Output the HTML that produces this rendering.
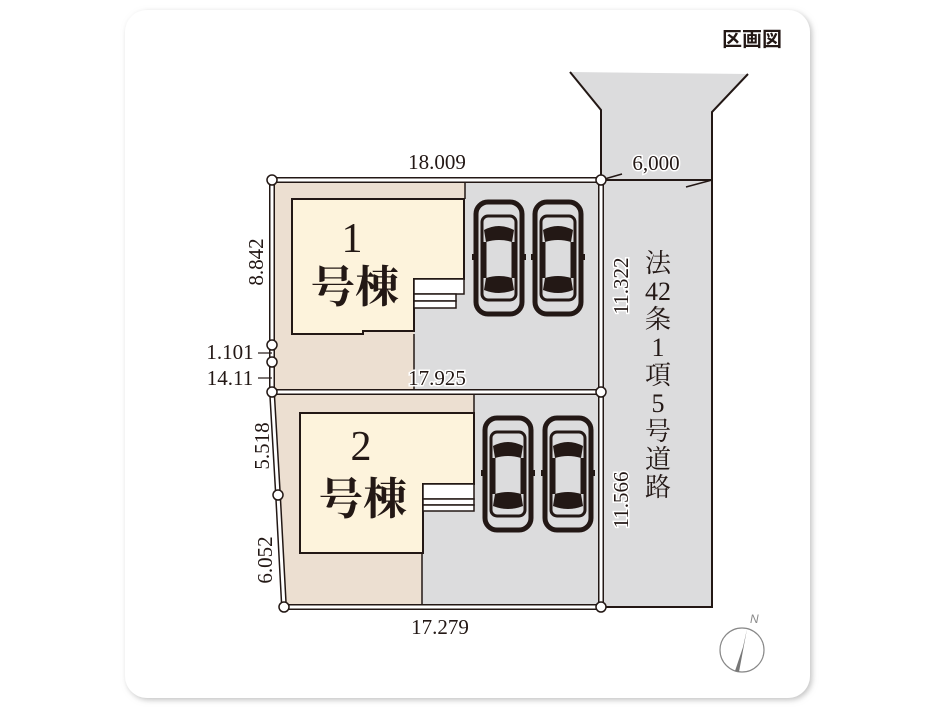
<!DOCTYPE html>
<html><head><meta charset="utf-8"><style>
html,body{margin:0;padding:0;background:#fff;width:939px;height:708px;overflow:hidden}
</style></head><body>
<svg width="939" height="708" viewBox="0 0 939 708" xmlns="http://www.w3.org/2000/svg">
<defs>
<filter id="sh" x="-5%" y="-5%" width="110%" height="110%"><feDropShadow dx="2" dy="2" stdDeviation="3" flood-color="#999" flood-opacity="0.6"/></filter>
<g id="car">
<rect x="0" y="0" width="46" height="112" rx="12" fill="none" stroke="#231815" stroke-width="5"/>
<rect x="6" y="14" width="34" height="84" rx="6" fill="none" stroke="#231815" stroke-width="3"/>
<path d="M8 28 Q23 20 38 28 L36 40 Q23 36 10 40 Z" fill="#231815"/>
<path d="M10 76 Q23 72 36 76 L38 88 Q23 94 8 88 Z" fill="#231815"/>
<line x1="9" y1="40" x2="9" y2="76" stroke="#231815" stroke-width="3"/>
<line x1="37" y1="40" x2="37" y2="76" stroke="#231815" stroke-width="3"/>
<rect x="-4" y="52" width="6" height="6" fill="#231815"/>
<rect x="44" y="52" width="6" height="6" fill="#231815"/>
</g>
</defs>
<rect x="125" y="10" width="685" height="688" rx="22" fill="#fff" filter="url(#sh)"/>
<text x="752" y="46" font-family="Liberation Sans,'Noto Sans CJK JP',sans-serif" font-size="20" font-weight="bold" text-anchor="middle" fill="#231815">区画図</text>

<polygon points="570,72 748,74 712,112 712,607 600,607 600,110" fill="#dcdcdd"/>
<polyline points="570,72 601,110 601,607 712,607 712,112 748,74" fill="none" stroke="#231815" stroke-width="2"/>
<line x1="601" y1="180" x2="712" y2="180" stroke="#231815" stroke-width="2"/>
<line x1="686" y1="187" x2="712" y2="180" stroke="#231815" stroke-width="1.5"/>
<line x1="601" y1="180" x2="622" y2="174" stroke="#231815" stroke-width="1.5"/>

<rect x="272" y="180" width="329" height="212" fill="#dcdcdd"/>
<polygon points="272,180 465,180 465,199 414,199 414,392 272,392" fill="#ecdfd1"/>
<polygon points="292,199 464,199 464,279 414,279 414,331 363,331 363,334 292,334" fill="#fdf3dc" stroke="#231815" stroke-width="2"/>
<rect x="414" y="279" width="50" height="15" fill="#fff" stroke="#231815" stroke-width="1.5"/>
<rect x="414" y="294" width="42" height="7" fill="#fff" stroke="#231815" stroke-width="1.5"/>
<rect x="414" y="301" width="42" height="7" fill="#fff" stroke="#231815" stroke-width="1.5"/>
<line x1="465" y1="182" x2="465" y2="199" stroke="#231815" stroke-width="1.5"/>
<line x1="414" y1="334" x2="414" y2="391" stroke="#231815" stroke-width="1.5"/>
<use href="#car" x="476" y="202"/>
<use href="#car" x="535" y="202"/>

<polygon points="272,392 601,392 601,607 284,607 278,495" fill="#dcdcdd"/>
<polygon points="272,392 474,392 474,413 422,413 422,607 284,607 278,495" fill="#ecdfd1"/>
<polygon points="300,413 474,413 474,484 423,484 423,553 300,553" fill="#fdf3dc" stroke="#231815" stroke-width="2"/>
<rect x="423" y="484" width="51" height="15" fill="#fff" stroke="#231815" stroke-width="1.5"/>
<rect x="423" y="499" width="51" height="6" fill="#fff" stroke="#231815" stroke-width="1.5"/>
<rect x="423" y="505" width="51" height="6" fill="#fff" stroke="#231815" stroke-width="1.5"/>
<line x1="474" y1="394" x2="474" y2="413" stroke="#231815" stroke-width="1.5"/>
<line x1="422" y1="553" x2="422" y2="606" stroke="#231815" stroke-width="1.5"/>
<use href="#car" x="485" y="418"/>
<use href="#car" x="545" y="418"/>

<g fill="none" stroke-linejoin="round">
<polyline points="272,180 601,180 601,607 284,607 278,495 272,392 272,180" stroke="#231815" stroke-width="6"/>
<line x1="272" y1="392" x2="601" y2="392" stroke="#231815" stroke-width="6"/>
<polyline points="272,180 601,180 601,607 284,607 278,495 272,392 272,180" stroke="#fff" stroke-width="3"/>
<line x1="272" y1="392" x2="601" y2="392" stroke="#fff" stroke-width="3"/>
</g>
<line x1="258" y1="353" x2="272" y2="353" stroke="#231815" stroke-width="1.2"/>
<line x1="258" y1="378" x2="272" y2="378" stroke="#231815" stroke-width="1.2"/>
<g fill="#fff" stroke="#231815" stroke-width="1.5">
<circle cx="272" cy="180" r="5"/><circle cx="601" cy="180" r="5"/>
<circle cx="272" cy="345" r="5"/><circle cx="272" cy="362" r="5"/>
<circle cx="272" cy="392" r="5"/><circle cx="601" cy="392" r="5"/>
<circle cx="278" cy="495" r="5"/><circle cx="284" cy="607" r="5"/>
<circle cx="601" cy="607" r="5"/>
</g>

<g font-family="Liberation Serif,'Noto Serif CJK SC',serif" fill="#231815" font-size="21" stroke="#fff" stroke-width="3" paint-order="stroke">
<text x="437" y="169" text-anchor="middle">18.009</text>
<text x="656" y="170" text-anchor="middle">6,000</text>
<text x="437" y="385" text-anchor="middle">17.925</text>
<text x="440" y="634" text-anchor="middle">17.279</text>
<text x="230" y="359" text-anchor="middle">1.101</text>
<text x="230" y="385" text-anchor="middle">14.11</text>
<text transform="translate(263,262) rotate(-90)" text-anchor="middle">8.842</text>
<text transform="translate(269,446) rotate(-90)" text-anchor="middle">5.518</text>
<text transform="translate(272,560) rotate(-90)" text-anchor="middle">6.052</text>
<text transform="translate(628,286) rotate(-90)" text-anchor="middle">11.322</text>
<text transform="translate(628,500) rotate(-90)" text-anchor="middle">11.566</text>
</g>
<g font-family="Liberation Serif,'Noto Serif CJK JP',serif" fill="#231815" font-size="26" text-anchor="middle" stroke="#dcdcdd" stroke-width="3" paint-order="stroke">
<text x="658" y="272">法</text>
<text x="658" y="300">42</text>
<text x="658" y="328">条</text>
<text x="658" y="356">1</text>
<text x="658" y="384">項</text>
<text x="658" y="412">5</text>
<text x="658" y="440">号</text>
<text x="658" y="468">道</text>
<text x="658" y="496">路</text>
</g>
<g font-family="Liberation Serif,'Noto Serif CJK JP',serif" fill="#231815" text-anchor="middle" font-weight="bold">
<text x="352" y="252" font-size="42" font-weight="normal">1</text>
<text x="355" y="302" font-size="44">号棟</text>
<text x="361" y="460" font-size="42" font-weight="normal">2</text>
<text x="363" y="514" font-size="44">号棟</text>
</g>

<circle cx="742" cy="650" r="22" fill="none" stroke="#888" stroke-width="1.2"/>
<polygon points="747,629 743,647 735,671 739,672" fill="#777"/>
<text x="750" y="623" font-family="Liberation Sans,sans-serif" font-size="12" font-style="italic" fill="#888">N</text>
</svg>
</body></html>
